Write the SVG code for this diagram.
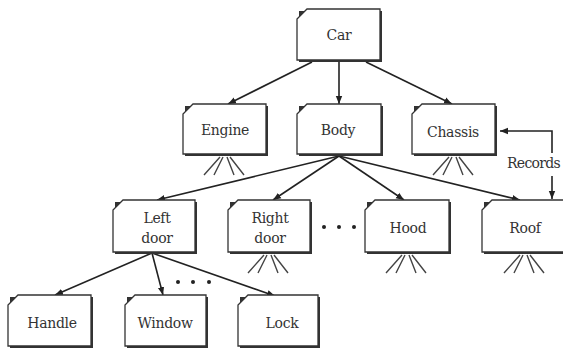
<svg xmlns="http://www.w3.org/2000/svg" width="563" height="349" viewBox="0 0 563 349">
<defs>
  <marker id="arr" markerUnits="userSpaceOnUse" markerWidth="9" markerHeight="8" refX="8" refY="4" orient="auto">
    <path d="M0,0.8 L8,4 L0,7.2 Z" fill="#222"/>
  </marker>
  <symbol id="fan" overflow="visible">
    <path d="M-5,0 L-21,18 M-2,0 L-11,18 M2,0 L9,18 M5,0 L19,18" stroke="#444" stroke-width="1.4" fill="none"/>
  </symbol>
</defs>
<style>
  .shadow { fill: #333; }
  .box { fill: #fff; stroke: #333; stroke-width: 1.3; }
  .lbl { font-family: "DejaVu Serif", serif; font-size: 14px; fill: #333; text-anchor: middle; letter-spacing: -0.3px; }
  .edge { stroke: #222; stroke-width: 1.6; fill: none; }
  .dot { fill: #222; }
</style>
<rect width="563" height="349" fill="#fff"/>

<g id="connectors">
  <path class="edge" d="M312,62 L228,104" marker-end="url(#arr)"/>
  <path class="edge" d="M339,62 L339,104" marker-end="url(#arr)"/>
  <path class="edge" d="M366,62 L452,104" marker-end="url(#arr)"/>
  <path class="edge" d="M339,156 L157,200" marker-end="url(#arr)"/>
  <path class="edge" d="M339,156 L273,200" marker-end="url(#arr)"/>
  <path class="edge" d="M339,156 L404,200" marker-end="url(#arr)"/>
  <path class="edge" d="M339,156 L520,200" marker-end="url(#arr)"/>
  <path class="edge" d="M152,253 L55,295" marker-end="url(#arr)"/>
  <path class="edge" d="M152,253 L163,295" marker-end="url(#arr)"/>
  <path class="edge" d="M152,253 L275,296" marker-end="url(#arr)"/>
  <path class="edge" d="M552,153 L552,131 L500,131" marker-end="url(#arr)"/>
  <path class="edge" d="M552,176 L552,199" marker-end="url(#arr)"/>
  <text class="lbl" x="507" y="168" style="text-anchor:start; letter-spacing:-0.7px">Records</text>
  <circle class="dot" cx="324" cy="227" r="2"/>
  <circle class="dot" cx="339" cy="227" r="2"/>
  <circle class="dot" cx="354" cy="227" r="2"/>
  <circle class="dot" cx="178" cy="282" r="2"/>
  <circle class="dot" cx="193" cy="282" r="2"/>
  <circle class="dot" cx="209" cy="282" r="2"/>
</g>

<g id="car">
  <rect class="shadow" x="299" y="11" width="83" height="51"/>
  <path class="box" d="M307,9 H380 V60 H297 V19 Z"/>
  <text class="lbl" x="339" y="40">Car</text>
</g>
<g id="engine">
  <rect class="shadow" x="185" y="106" width="83" height="50"/>
  <path class="box" d="M193,104 H266 V154 H183 V114 Z"/>
  <text class="lbl" x="225" y="135">Engine</text>
  <use href="#fan" x="225" y="157"/>
</g>
<g id="body">
  <rect class="shadow" x="299" y="106" width="84" height="50"/>
  <path class="box" d="M307,104 H381 V154 H297 V114 Z"/>
  <text class="lbl" x="338" y="135">Body</text>
</g>
<g id="chassis">
  <rect class="shadow" x="414" y="106" width="83" height="50"/>
  <path class="box" d="M422,104 H495 V154 H412 V114 Z"/>
  <text class="lbl" x="453" y="137">Chassis</text>
  <use href="#fan" x="454" y="157"/>
</g>
<g id="left-door">
  <rect class="shadow" x="115" y="202" width="82" height="52"/>
  <path class="box" d="M123,200 H195 V252 H113 V210 Z"/>
  <text class="lbl" x="157" y="223">Left</text>
  <text class="lbl" x="157" y="243">door</text>
</g>
<g id="right-door">
  <rect class="shadow" x="230" y="202" width="82" height="52"/>
  <path class="box" d="M238,200 H310 V252 H228 V210 Z"/>
  <text class="lbl" x="270" y="223">Right</text>
  <text class="lbl" x="270" y="243">door</text>
  <use href="#fan" x="269" y="255"/>
</g>
<g id="hood">
  <rect class="shadow" x="367" y="202" width="84" height="52"/>
  <path class="box" d="M375,200 H449 V252 H365 V210 Z"/>
  <text class="lbl" x="408" y="233">Hood</text>
  <use href="#fan" x="407" y="255"/>
</g>
<g id="roof">
  <rect class="shadow" x="484" y="202" width="84" height="52"/>
  <path class="box" d="M492,200 H566 V252 H482 V210 Z"/>
  <text class="lbl" x="525" y="233">Roof</text>
  <use href="#fan" x="525" y="255"/>
</g>
<g id="handle">
  <rect class="shadow" x="10" y="297" width="83" height="51"/>
  <path class="box" d="M18,295 H91 V346 H8 V305 Z"/>
  <text class="lbl" x="52" y="328">Handle</text>
</g>
<g id="window">
  <rect class="shadow" x="127" y="297" width="81" height="51"/>
  <path class="box" d="M135,295 H206 V346 H125 V305 Z"/>
  <text class="lbl" x="165" y="328">Window</text>
</g>
<g id="lock">
  <rect class="shadow" x="240" y="297" width="80" height="51"/>
  <path class="box" d="M248,295 H318 V346 H238 V305 Z"/>
  <text class="lbl" x="282" y="328">Lock</text>
</g>
</svg>
